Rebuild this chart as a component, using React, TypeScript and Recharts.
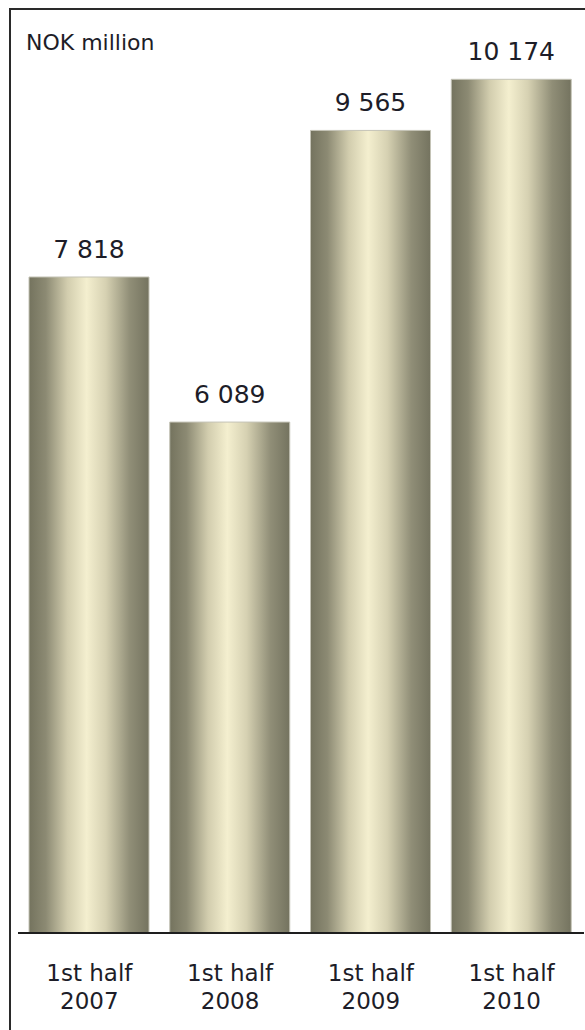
import { Bar, BarChart, LabelList, XAxis, YAxis } from "recharts";

const periods = ["1st half", "1st half", "1st half", "1st half"];
const years = ["2007", "2008", "2009", "2010"];
const values = [7818, 6089, 9565, 10174];

const data = years.map((year, i) => ({
  name: `${periods[i]}\n${year}`,
  period: periods[i],
  year,
  value: values[i],
}));

const TEXT = "#1d1d28";
const FONT = "'DejaVu Sans', Verdana, sans-serif";

// "7818" -> "7 818"
const fmt = (v: any) => String(v).replace(/\B(?=(\d{3})+(?!\d))/g, " ");

function TwoLineTick(props: any) {
  const { x, y, index } = props;
  const d = data[index];
  if (!d) return null;
  return (
    <text
      x={x}
      y={y}
      textAnchor="middle"
      fill={TEXT}
      fontSize={23}
      fontFamily={FONT}
    >
      <tspan x={x} dy={48}>
        {d.period}
      </tspan>
      <tspan x={x} dy={28}>
        {d.year}
      </tspan>
    </text>
  );
}

export default function App() {
  return (
    <div
      style={{
        position: "absolute",
        left: 0,
        top: 0,
        width: 585,
        height: 1030,
        background: "#fff",
      }}
    >
      <BarChart
        width={585}
        height={1030}
        data={data}
        margin={{ top: 10, right: 1, bottom: 0, left: 18 }}
      >
        <defs>
          <linearGradient id="barFill" x1="0" y1="0" x2="1" y2="0">
            <stop offset="0%" stopColor="#74735e" />
            <stop offset="14%" stopColor="#8c8a73" />
            <stop offset="32%" stopColor="#d2cdae" />
            <stop offset="48%" stopColor="#f4efcf" />
            <stop offset="64%" stopColor="#d6d1b2" />
            <stop offset="84%" stopColor="#908e77" />
            <stop offset="100%" stopColor="#74735f" />
          </linearGradient>
        </defs>
        <XAxis
          dataKey="name"
          height={97}
          interval={0}
          padding={{ left: 1, right: 2 }}
          axisLine={{ stroke: "#1e1e1e", strokeWidth: 2 }}
          tickLine={false}
          tickSize={0}
          tickMargin={0}
          tick={<TwoLineTick />}
        />
        <YAxis hide domain={[0, 11000]} />
        <Bar
          dataKey="value"
          fill="url(#barFill)"
          stroke="#c4c3b6"
          strokeWidth={1}
          barSize={120}
          isAnimationActive={false}
        >
          <LabelList
            dataKey="value"
            position="top"
            offset={19}
            formatter={fmt}
            fill={TEXT}
            fontSize={25}
            fontFamily={FONT}
          />
        </Bar>
      </BarChart>
      <svg
        width={585}
        height={1030}
        style={{ position: "absolute", left: 0, top: 0, pointerEvents: "none" }}
      >
        <line x1={10} y1={9} x2={10} y2={1030} stroke="#2a2a2a" strokeWidth={2} />
        <line x1={9} y1={9} x2={585} y2={9} stroke="#2a2a2a" strokeWidth={2} />
        <text x={26} y={50} fontSize={22} fontFamily={FONT} fill={TEXT}>
          NOK million
        </text>
      </svg>
    </div>
  );
}
